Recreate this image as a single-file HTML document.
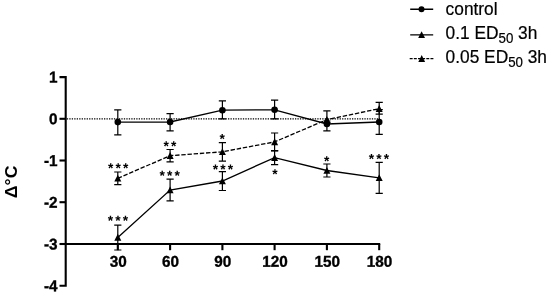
<!DOCTYPE html><html><head><meta charset="utf-8"><title>chart</title><style>html,body{margin:0;padding:0;background:#fff}svg{display:block}text{font-family:"Liberation Sans",sans-serif;fill:#000}</style></head><body>
<svg width="550" height="295" viewBox="0 0 550 295">
<rect width="550" height="295" fill="#fff"/>
<line x1="66.8" y1="118.8" x2="380" y2="118.8" stroke="#000" stroke-width="1.25" stroke-dasharray="1.3 1.18"/>
<g stroke="#000" stroke-width="2.1" fill="none">
<path d="M59.5 77.1H65.7V285.7H59.5"/>
<path d="M59.5 118.8H65.7"/>
<path d="M59.5 160.5H65.7"/>
<path d="M59.5 202.2H65.7"/>
<path d="M59.5 244.0H65.7"/>
<path d="M65.7 244.0H380.2"/>
<path d="M117.8 244.0V250.2"/>
<path d="M170.1 244.0V250.2"/>
<path d="M222.4 244.0V250.2"/>
<path d="M274.6 244.0V250.2"/>
<path d="M326.9 244.0V250.2"/>
<path d="M379.2 244.0V250.2"/>
</g>
<g font-size="15.3" font-weight="bold" text-anchor="end" stroke="#000" stroke-width="0.35">
<text transform="translate(57.6 82.6) rotate(0.03) scale(1 1.02)">1</text>
<text transform="translate(57.6 124.3) rotate(0.03) scale(1 1.02)">0</text>
<text transform="translate(57.6 166.0) rotate(0.03) scale(1 1.02)">-1</text>
<text transform="translate(57.6 207.7) rotate(0.03) scale(1 1.02)">-2</text>
<text transform="translate(57.6 249.5) rotate(0.03) scale(1 1.02)">-3</text>
<text transform="translate(57.6 291.2) rotate(0.03) scale(1 1.02)">-4</text>
</g>
<g font-size="15.3" font-weight="bold" text-anchor="middle" stroke="#000" stroke-width="0.35">
<text transform="translate(118.2 266.8) rotate(0.03) scale(1 1.02)">30</text>
<text transform="translate(170.5 266.8) rotate(0.03) scale(1 1.02)">60</text>
<text transform="translate(222.8 266.8) rotate(0.03) scale(1 1.02)">90</text>
<text transform="translate(275.0 266.8) rotate(0.03) scale(1 1.02)">120</text>
<text transform="translate(327.3 266.8) rotate(0.03) scale(1 1.02)">150</text>
<text transform="translate(379.6 266.8) rotate(0.03) scale(1 1.02)">180</text>
</g>
<text transform="translate(17.1 181.9) rotate(-90) scale(1.066 1)" font-size="16.7" font-weight="bold" text-anchor="middle">Δ°C</text>
<polyline points="117.8,178.3 170.1,155.7 222.4,151.8 274.6,141.9 326.9,119.6 379.2,108.7" fill="none" stroke="#000" stroke-width="1.3" stroke-dasharray="4.4 1.8"/>
<g stroke="#000" stroke-width="1.2" fill="none">
<path d="M114.2 172.0H121.4M117.8 172.0V184.6M114.2 184.6H121.4"/>
<path d="M166.5 149.5H173.7M170.1 149.5V161.8M166.5 161.8H173.7"/>
<path d="M218.8 142.6H226.0M222.4 142.6V161.1M218.8 161.1H226.0"/>
<path d="M271.0 133.0H278.2M274.6 133.0V150.8M271.0 150.8H278.2"/>
<path d="M323.3 110.8H330.5M326.9 110.8V122.5M323.3 122.5H330.5"/>
<path d="M375.6 102.3H382.8M379.2 102.3V114.1M375.6 114.1H382.8"/>
</g>
<path d="M117.8 174.7L121.3 181.6H114.3Z"/>
<path d="M170.1 152.1L173.6 159.0H166.6Z"/>
<path d="M222.4 148.2L225.9 155.1H218.9Z"/>
<path d="M274.6 138.3L278.1 145.2H271.1Z"/>
<path d="M326.9 116.0L330.4 122.9H323.4Z"/>
<path d="M379.2 105.1L382.7 112.0H375.7Z"/>
<polyline points="117.8,237.4 170.1,190.0 222.4,181.0 274.6,157.6 326.9,170.5 379.2,177.8" fill="none" stroke="#000" stroke-width="1.3"/>
<g stroke="#000" stroke-width="1.2" fill="none">
<path d="M114.2 225.1H121.4M117.8 225.1V250.0M114.2 250.0H121.4"/>
<path d="M166.5 179.1H173.7M170.1 179.1V200.8M166.5 200.8H173.7"/>
<path d="M218.8 171.6H226.0M222.4 171.6V190.5M218.8 190.5H226.0"/>
<path d="M271.0 150.6H278.2M274.6 150.6V164.6M271.0 164.6H278.2"/>
<path d="M323.3 164.0H330.5M326.9 164.0V177.0M323.3 177.0H330.5"/>
<path d="M375.6 162.4H382.8M379.2 162.4V193.3M375.6 193.3H382.8"/>
</g>
<path d="M117.8 233.8L121.3 240.7H114.3Z"/>
<path d="M170.1 186.4L173.6 193.3H166.6Z"/>
<path d="M222.4 177.4L225.9 184.3H218.9Z"/>
<path d="M274.6 154.0L278.1 160.9H271.1Z"/>
<path d="M326.9 166.9L330.4 173.8H323.4Z"/>
<path d="M379.2 174.2L382.7 181.1H375.7Z"/>
<polyline points="117.8,122.1 170.1,122.0 222.4,110.2 274.6,109.8 326.9,124.0 379.2,122.0" fill="none" stroke="#000" stroke-width="1.3"/>
<g stroke="#000" stroke-width="1.2" fill="none">
<path d="M114.2 109.9H121.4M117.8 109.9V134.8M114.2 134.8H121.4"/>
<path d="M166.5 113.7H173.7M170.1 113.7V130.8M166.5 130.8H173.7"/>
<path d="M218.8 100.9H226.0M222.4 100.9V118.9M218.8 118.9H226.0"/>
<path d="M271.0 100.2H278.2M274.6 100.2V118.9M271.0 118.9H278.2"/>
<path d="M323.3 121.0H330.5M326.9 121.0V130.9M323.3 130.9H330.5"/>
<path d="M375.6 109.6H382.8M379.2 109.6V134.3M375.6 134.3H382.8"/>
</g>
<circle cx="117.8" cy="122.1" r="3.3"/>
<circle cx="170.1" cy="122.0" r="3.3"/>
<circle cx="222.4" cy="110.2" r="3.3"/>
<circle cx="274.6" cy="109.8" r="3.3"/>
<circle cx="326.9" cy="124.0" r="3.3"/>
<circle cx="379.2" cy="122.0" r="3.3"/>
<g font-size="13.8" font-weight="bold" text-anchor="middle">
<text transform="translate(118.20 172.65) rotate(0.03)" x="-7.50 0.00 7.50" y="0">***</text>
<text transform="translate(169.90 150.75) rotate(0.03)" x="-3.75 3.75" y="0">**</text>
<text transform="translate(222.10 143.45) rotate(0.03)" x="0.00" y="0">*</text>
<text transform="translate(117.90 225.25) rotate(0.03)" x="-7.50 0.00 7.50" y="0">***</text>
<text transform="translate(169.75 180.25) rotate(0.03)" x="-7.50 0.00 7.50" y="0">***</text>
<text transform="translate(223.00 174.10) rotate(0.03)" x="-7.50 0.00 7.50" y="0">***</text>
<text transform="translate(275.00 178.65) rotate(0.03)" x="0.00" y="0">*</text>
<text transform="translate(326.60 165.70) rotate(0.03)" x="0.00" y="0">*</text>
<text transform="translate(379.00 163.55) rotate(0.03)" x="-7.50 0.00 7.50" y="0">***</text>
</g>
<g stroke="#000" stroke-width="1.4" fill="none">
<path d="M410.2 9.3H433.2M410.2 34.9H433.2"/>
<path d="M409.7 58.6H433.4" stroke-dasharray="2.95 1.2"/>
</g>
<circle cx="421.5" cy="9.3" r="3"/>
<path d="M421.6 31.2L425.0 38.0H418.2Z"/>
<path d="M421.7 55.1L425.1 61.9H418.3Z"/>
<g font-size="17.33" stroke="#000" stroke-width="0.2">
<text transform="translate(445.6 14.7) scale(1 1.04)">control</text>
<text transform="translate(445.6 38.9) scale(1 1.04)">0.1 ED<tspan font-size="13.3" dy="3.9">50</tspan><tspan dy="-3.9"> 3h</tspan></text>
<text transform="translate(445.6 63.4) scale(1 1.04)">0.05 ED<tspan font-size="13.3" dy="3.9">50</tspan><tspan dy="-3.9"> 3h</tspan></text>
</g>
</svg></body></html>
